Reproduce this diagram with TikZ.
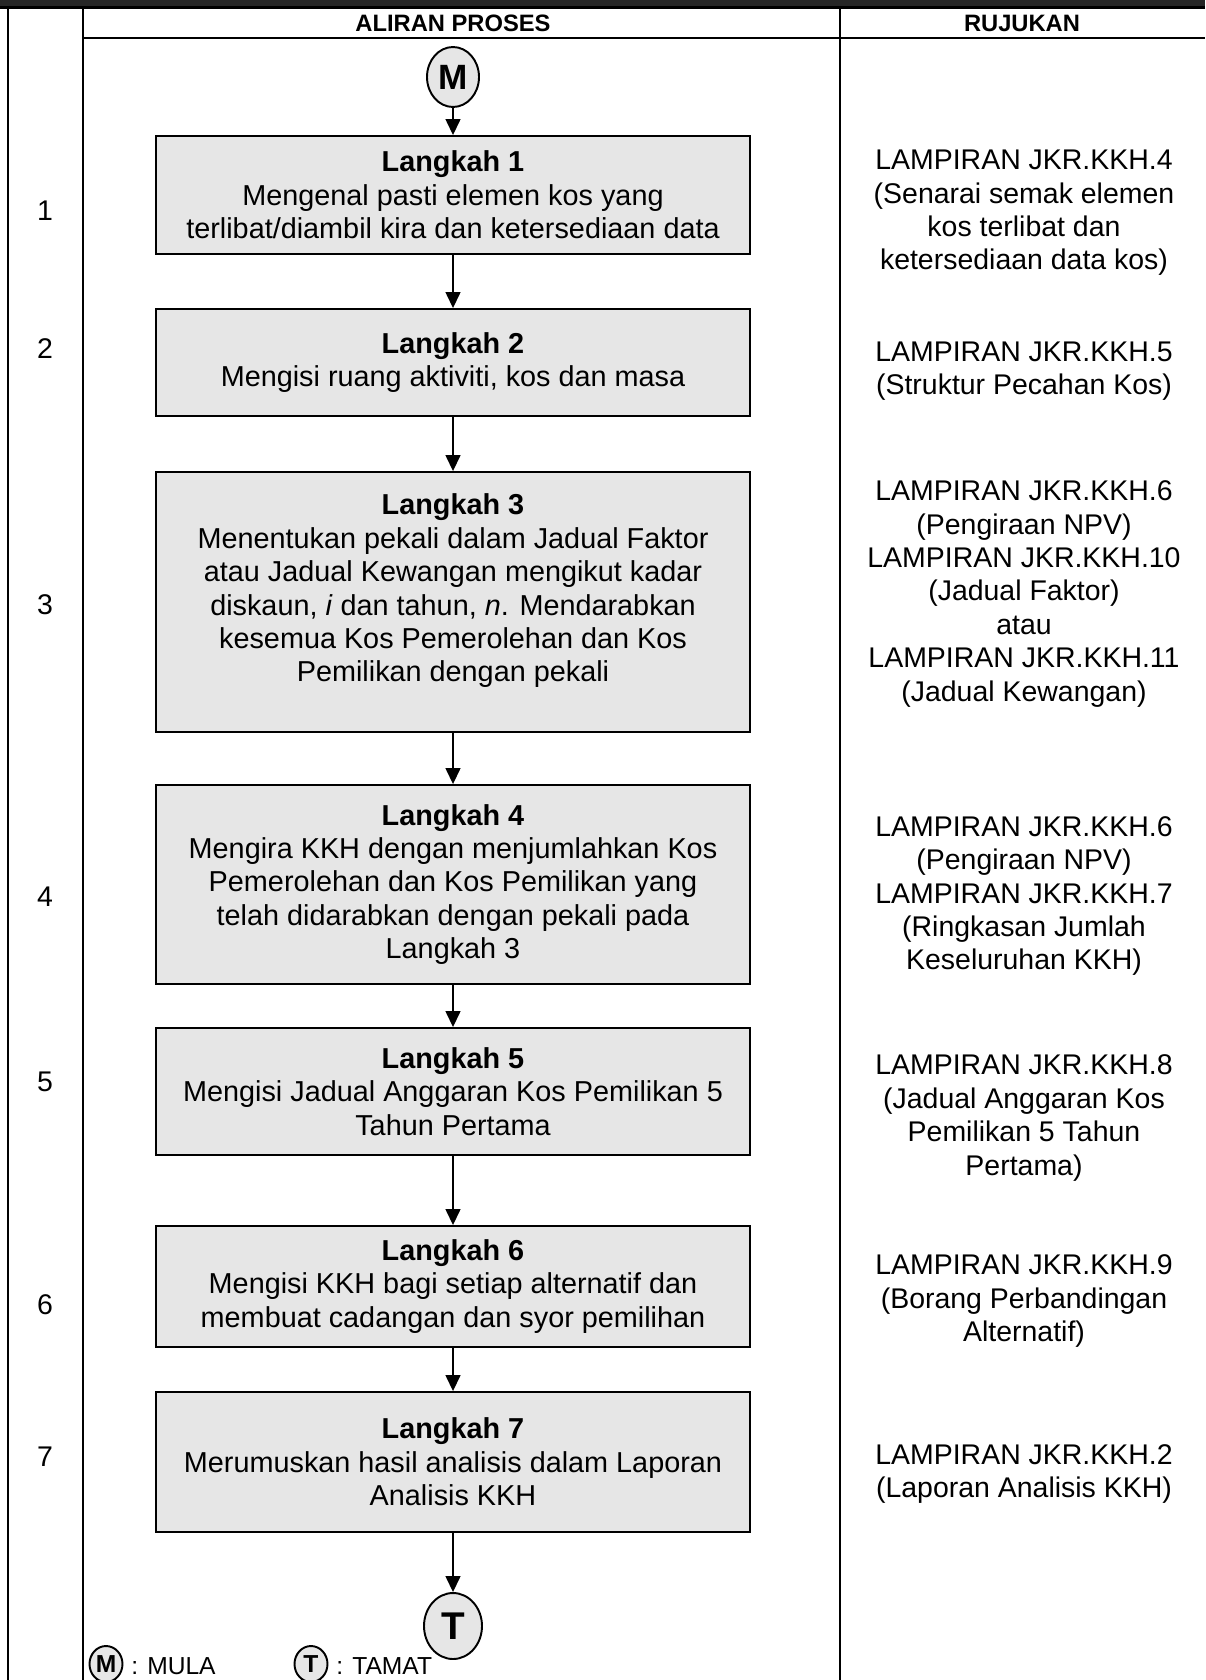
\documentclass[tikz,border=0pt]{standalone}
\usepackage{fontspec}
\setmainfont{Liberation Sans}
\usepackage{xcolor}
\usepackage{tikz}
\usetikzlibrary{shapes.geometric}
\usetikzlibrary{arrows.meta}
\definecolor{boxgray}{HTML}{E6E6E6}
\definecolor{bandgray}{HTML}{262626}
\tikzset{ step_box/.style = {rectangle, draw, fill=boxgray, line width=1.1pt, minimum width=11.88cm, inner sep=0pt, align=center, font=\fontsize{16.4}{19}\selectfont} }
\tikzset{ ref_text/.style = {align=center, inner sep=0pt, font=\fontsize{16.2}{19}\selectfont} }
\tikzset{ term_node/.style = {ellipse, draw, fill=boxgray, line width=1.1pt, inner sep=0pt, font=\fontsize{20}{20}\selectfont\bfseries} }
\tikzset{ flow_arrow/.style = {line width=0.8pt, -{Triangle[length=0.32cm, width=0.3cm]}} }
\tikzset{ grid_line/.style = {line width=1.2pt} }

\begin{document}
\begin{tikzpicture}[x=0.02cm,y=-0.02cm]
            \useasboundingbox (0,0) rectangle (1205,1680);
            \fill[bandgray] (0,0) rectangle (1205,7);
            \draw[grid_line] (0,7.5) -- (1205,7.5);
            \draw[grid_line] (8,7) -- (8,1680);
            \draw[grid_line] (83,7) -- (83,1680);
            \draw[grid_line] (840,7) -- (840,1680);
            \draw[grid_line] (83,38) -- (1205,38);
            \node [font=\fontsize{13.5}{15}\selectfont\bfseries] (h1) at (453, 23) {ALIRAN PROSES};
            \node [font=\fontsize{13.5}{15}\selectfont\bfseries] (h2) at (1022, 23) {RUJUKAN};

            \node [style=term_node, minimum width=1.04cm, minimum height=1.2cm] (mula) at (453, 77) {M};
            \node [style=step_box, minimum height=2.36cm] (s1) at (453, 195) {\textbf{Langkah 1}\\Mengenal pasti elemen kos yang\\terlibat/diambil kira dan ketersediaan data};
            \node [style=step_box, minimum height=2.14cm] (s2) at (453, 362.5) {\textbf{Langkah 2}\\Mengisi ruang aktiviti, kos dan masa};
            \node [style=step_box, minimum height=5.2cm] (s3) at (453, 602) {\textbf{Langkah 3}\\Menentukan pekali dalam Jadual Faktor\\atau Jadual Kewangan mengikut kadar\\diskaun, \textit{i} dan tahun, \textit{n}. Mendarabkan\\kesemua Kos Pemerolehan dan Kos\\Pemilikan dengan pekali\\[-3pt]};
            \node [style=step_box, minimum height=3.98cm] (s4) at (453, 884.5) {\textbf{Langkah 4}\\Mengira KKH dengan menjumlahkan Kos\\Pemerolehan dan Kos Pemilikan yang\\telah didarabkan dengan pekali pada\\Langkah 3};
            \node [style=step_box, minimum height=2.54cm] (s5) at (453, 1091.5) {\textbf{Langkah 5}\\Mengisi Jadual Anggaran Kos Pemilikan 5\\Tahun Pertama};
            \node [style=step_box, minimum height=2.42cm] (s6) at (453, 1286.5) {\textbf{Langkah 6}\\Mengisi KKH bagi setiap alternatif dan\\membuat cadangan dan syor pemilihan};
            \node [style=step_box, minimum height=2.8cm] (s7) at (453, 1462) {\textbf{Langkah 7}\\Merumuskan hasil analisis dalam Laporan\\Analisis KKH};
            \node [style=term_node, minimum width=1.16cm, minimum height=1.32cm, font=\fontsize{22}{22}\selectfont\bfseries] (tamat) at (453, 1626) {T};

            \draw[flow_arrow] (mula) to (s1);
            \draw[flow_arrow] (s1) to (s2);
            \draw[flow_arrow] (s2) to (s3);
            \draw[flow_arrow] (s3) to (s4);
            \draw[flow_arrow] (s4) to (s5);
            \draw[flow_arrow] (s5) to (s6);
            \draw[flow_arrow] (s6) to (s7);
            \draw[flow_arrow] (s7) to (tamat);

            \node [style=ref_text] (n1) at (45, 211) {1};
            \node [style=ref_text] (n2) at (45, 349) {2};
            \node [style=ref_text] (n3) at (45, 605) {3};
            \node [style=ref_text] (n4) at (45, 897) {4};
            \node [style=ref_text] (n5) at (45, 1082) {5};
            \node [style=ref_text] (n6) at (45, 1305) {6};
            \node [style=ref_text] (n7) at (45, 1457) {7};

            \node [style=ref_text] (r1) at (1024, 213) {LAMPIRAN JKR.KKH.4\\(Senarai semak elemen\\kos terlibat dan\\ketersediaan data kos)};
            \node [style=ref_text] (r2) at (1024, 371) {LAMPIRAN JKR.KKH.5\\(Struktur Pecahan Kos)};
            \node [style=ref_text] (r3) at (1024, 594) {LAMPIRAN JKR.KKH.6\\(Pengiraan NPV)\\LAMPIRAN JKR.KKH.10\\(Jadual Faktor)\\atau\\LAMPIRAN JKR.KKH.11\\(Jadual Kewangan)};
            \node [style=ref_text] (r4) at (1024, 896) {LAMPIRAN JKR.KKH.6\\(Pengiraan NPV)\\LAMPIRAN JKR.KKH.7\\(Ringkasan Jumlah\\Keseluruhan KKH)};
            \node [style=ref_text] (r5) at (1024, 1118) {LAMPIRAN JKR.KKH.8\\(Jadual Anggaran Kos\\Pemilikan 5 Tahun\\Pertama)};
            \node [style=ref_text] (r6) at (1024, 1301) {LAMPIRAN JKR.KKH.9\\(Borang Perbandingan\\Alternatif)};
            \node [style=ref_text] (r7) at (1024, 1474) {LAMPIRAN JKR.KKH.2\\(Laporan Analisis KKH)};

            \node [style=term_node, minimum width=0.66cm, minimum height=0.72cm, font=\fontsize{14}{14}\selectfont\bfseries] (lm) at (106, 1664) {M};
            \node [anchor=west, inner sep=0pt, font=\fontsize{14}{16}\selectfont] (lmt) at (131, 1666) {: MULA};
            \node [style=term_node, minimum width=0.66cm, minimum height=0.72cm, font=\fontsize{14}{14}\selectfont\bfseries] (lt) at (311, 1664) {T};
            \node [anchor=west, inner sep=0pt, font=\fontsize{14}{16}\selectfont] (ltt) at (336, 1666) {: TAMAT};
    \end{tikzpicture}
\end{document}
